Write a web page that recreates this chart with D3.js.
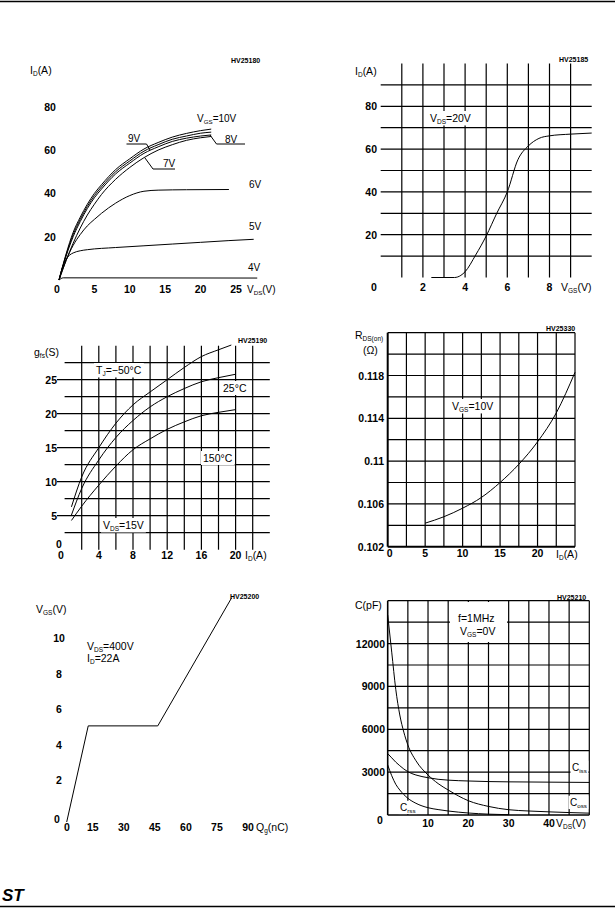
<!DOCTYPE html>
<html><head><meta charset="utf-8">
<script src="https://cdn.jsdelivr.net/npm/d3@7"></script>
<style>
html,body{margin:0;padding:0;background:#fff;}
svg{display:block;}
text{font-family:"Liberation Sans",Arial,Helvetica,sans-serif;fill:#000;}
</style></head><body>
<svg id="page" width="615" height="908"></svg>
<script>
// ---------- DATA ----------
// Chart 1: Output characteristics (ID vs VDS)
const outTicksX = [5, 10, 15, 20, 25];
const outTicksY = [20, 40, 60, 80];
const out10V = [[0,0],[1,12],[2,22],[3,29],[4,35],[5,40],[6,44],[8,51],[10,56],[12,60.5],[14,63.5],[16,66],[18,67.7],[20,69],[21.5,69.7]];
const out9V  = [[0,0],[1,11.5],[2,21],[3,28],[4,34],[5,39],[6,43],[8,50],[10,55],[12,59.5],[14,62.5],[16,65],[18,66.5],[20,67.8],[21.5,68.3]];
const out8V  = [[0,0],[1,11],[2,20],[3,27],[4,33],[5,38],[6,42],[8,49],[10,54],[12,58.5],[14,61.5],[16,64],[18,65.5],[20,66.5],[21.5,67]];
const out7V  = [[0,0],[1,9],[2,17],[3,24],[4,30],[5,35],[6,39.5],[8,46.5],[10,52],[12,56.5],[14,60],[16,62.5],[18,64.5],[20,65.7],[21.5,66.3]];
const out6V  = [[0,0],[1,9],[2,16],[3,21],[4,25],[5,28],[6,30.8],[8,35.5],[10,39],[12,41],[14,41.5],[18,41.7],[24,41.8]];
const out5V  = [[0,0],[0.5,6],[1,9.5],[1.5,11.5],[2,12.5],[3,13.5],[4,14],[8,15],[12,15.8],[16,16.6],[20,17.4],[24,18.2],[27.5,18.8]];
const out4V  = [[0,0],[0.6,1],[28,0.9]];

// Chart 2: Transfer characteristics
const trTicksX = [2, 4, 6, 8];
const trTicksY = [20, 40, 60, 80];
const trVgs = [2.4, 3.5, 3.8, 4.0, 4.5, 5.0, 5.5, 6.0, 6.5, 7.0, 7.5, 8.0, 9.0, 10.0];
const trId  = [0, 0, 1, 2.7, 10.5, 19.4, 30, 40, 55, 61.5, 65, 66.2, 67, 67.5];

// Chart 3: Transconductance
const gfsTicksX = [4, 8, 12, 16, 20];
const gfsTicksY = [5, 10, 15, 20, 25];
const gfsIdM50 = [0.8, 2, 4, 6, 8, 10, 12, 14, 16, 18, 19.5];
const gfsM50   = [6.3, 10.7, 15, 18.6, 21.3, 23.2, 25, 26.8, 28.4, 29.4, 30.1];
const gfsId    = [0.8, 2, 4, 6, 8, 10, 12, 14, 16, 18, 20];
const gfs25    = [5.1, 9, 13.2, 16.5, 19, 21, 22.5, 23.7, 24.7, 25.3, 25.8];
const gfs150   = [4.3, 6.4, 9.5, 12.3, 14.7, 16.3, 17.7, 18.8, 19.7, 20.2, 20.6];

// Chart 4: Static drain-source on resistance
const rdsTicksX = [0, 5, 10, 15, 20];
const rdsTicksY = [0.102, 0.106, 0.11, 0.114, 0.118];
const rdsTickLabels = ["0.102", "0.106", "0.11", "0.114", "0.118"];
const rdsId  = [5, 7.5, 10, 12.5, 15, 17.5, 20, 22.5, 25];
const rdsVal = [0.1042, 0.1048, 0.1056, 0.1066, 0.1080, 0.1097, 0.1118, 0.1145, 0.1183];

// Chart 5: Gate charge
const gcTicksX = [15, 30, 45, 60, 75, 90];
const gcTicksY = [2, 4, 6, 8, 10];
const gcQ = [0, 10.4, 44, 79.7];
const gcV = [0, 5.4, 5.4, 12.6];

// Chart 6: Capacitance variations
const capTicksX = [10, 20, 30, 40];
const capTicksY = [3000, 6000, 9000, 12000];
const capV  = [0, 1, 2, 3, 4, 5, 7, 10, 12.5, 15, 20, 25, 30, 35, 40, 45, 50];
const ciss  = [4300, 4000, 3700, 3450, 3220, 3030, 2800, 2610, 2500, 2440, 2380, 2340, 2320, 2310, 2300, 2290, 2280];
const coss  = [14000, 11400, 8800, 7000, 5800, 4900, 3800, 2800, 2200, 1750, 1000, 600, 370, 280, 220, 170, 130];
const crssV = [0, 1, 2, 3, 4, 5, 7, 10, 12.5, 15, 20, 25, 30];
const crss  = [3500, 2750, 2150, 1750, 1430, 1170, 820, 510, 380, 280, 140, 60, 20];

// ---------- HELPERS ----------
const svg = d3.select("#page");

function addText(g, x, y, str, o = {}) {
  const size = o.size || 10;
  const t = g.append("text").attr("x", x).attr("y", y)
    .attr("text-anchor", o.anchor || "start")
    .attr("dominant-baseline", "central")
    .attr("font-size", size)
    .attr("font-weight", o.weight || "normal");
  const parts = str.split(/(_\{[^}]*\})/).filter(s => s.length);
  let inSub = false;
  const shift = size * 0.28;
  parts.forEach(p => {
    if (p.startsWith("_{")) {
      t.append("tspan").text(p.slice(2, -1)).attr("font-size", size * 0.62).attr("dy", shift);
      inSub = true;
    } else {
      const ts = t.append("tspan").text(p);
      if (inSub) { ts.attr("dy", -shift); inSub = false; }
    }
  });
  if (o.bg) {
    const b = t.node().getBBox();
    const pad = o.pad || 2;
    g.insert("rect", () => t.node())
      .attr("x", b.x - pad).attr("y", b.y - pad * 0.5)
      .attr("width", b.width + 2 * pad).attr("height", b.height + pad)
      .attr("fill", "#fff");
  }
  return t;
}
function hline(g, x1, x2, y, w = 1.2) {
  g.append("line").attr("x1", x1).attr("x2", x2).attr("y1", y).attr("y2", y)
    .attr("stroke", "#000").attr("stroke-width", w);
}
function vline(g, x, y1, y2, w = 1.2) {
  g.append("line").attr("x1", x).attr("x2", x).attr("y1", y1).attr("y2", y2)
    .attr("stroke", "#000").attr("stroke-width", w);
}
function curve(g, pts, xs, ys, type = d3.curveMonotoneX, w = 1) {
  g.append("path").datum(pts)
    .attr("d", d3.line().x(d => xs(d[0])).y(d => ys(d[1])).curve(type))
    .attr("fill", "none").attr("stroke", "#000").attr("stroke-width", w);
}
const zip = (a, b) => a.map((v, i) => [v, b[i]]);
const HV = { size: 7, weight: "bold" };

// ---------- PAGE FRAME ----------
hline(svg, 0, 615, 1.5, 1.5);
hline(svg, 0, 615, 906.5, 1.5);
svg.append("text").attr("x", 2).attr("y", 901).attr("font-size", 17)
  .attr("font-weight", "bold").attr("font-style", "italic").text("ST");

// ---------- CHART 1 ----------
{
  const g = svg.append("g");
  const x = d3.scaleLinear([0, 25], [59, 236]);
  const y = d3.scaleLinear([0, 80], [280, 106.8]);
  addText(g, 30, 70, "I_{D}(A)", { size: 10.5 });
  addText(g, 231, 60, "HV25180", HV);
  outTicksY.forEach(v => addText(g, 50, y(v), String(v), { anchor: "middle", weight: "bold", size: 10.5 }));
  addText(g, 57, 289, "0", { anchor: "middle", weight: "bold", size: 10.5 });
  outTicksX.forEach(v => addText(g, x(v), 289, String(v), { anchor: "middle", weight: "bold", size: 10.5 }));
  addText(g, 247, 289, "V_{DS}(V)", { size: 10 });
  [out10V, out9V, out8V, out7V, out6V, out5V, out4V].forEach(c => curve(g, c, x, y));
  addText(g, 197, 118, "V_{GS}=10V");
  addText(g, 128, 138, "9V");
  addText(g, 225, 139, "8V");
  addText(g, 163, 163, "7V");
  addText(g, 249, 184, "6V");
  addText(g, 249, 226, "5V");
  addText(g, 248, 267, "4V");
  // leaders
  const lead = [
    [[126.5, 144], [146.5, 144], [150, 150]],
    [[210, 135], [216.5, 144], [245, 144]],
    [[145, 158], [153, 169], [175, 169]]
  ];
  lead.forEach(p => g.append("path").attr("d", d3.line()(p)).attr("fill", "none").attr("stroke", "#000").attr("stroke-width", 1));
}

// ---------- CHART 2 ----------
{
  const g = svg.append("g");
  const x = d3.scaleLinear([0, 10], [380.7, 591.7]);
  const y = d3.scaleLinear([0, 100], [277.5, 63.5]);
  d3.range(1, 10).forEach(v => vline(g, x(v), y(100), y(0)));
  d3.range(10, 100, 10).forEach(v => hline(g, x(0), x(10), y(v)));
  addText(g, 355, 71, "I_{D}(A)", { size: 10.5 });
  addText(g, 559, 59, "HV25185", HV);
  trTicksY.forEach(v => addText(g, 377, y(v), String(v), { anchor: "end", weight: "bold", size: 10.5 }));
  addText(g, 374, 287, "0", { anchor: "middle", weight: "bold", size: 10.5 });
  trTicksX.forEach(v => addText(g, x(v), 287, String(v), { anchor: "middle", weight: "bold", size: 10.5 }));
  addText(g, 561, 287, "V_{GS}(V)", { size: 10.5 });
  addText(g, 430, 118, "V_{DS}=20V", { bg: true, size: 10.5 });
  curve(g, zip(trVgs, trId), x, y);
}

// ---------- CHART 3 ----------
{
  const g = svg.append("g");
  const x = d3.scaleLinear([0, 24], [64.6, 269.8]);
  const y = d3.scaleLinear([0, 30], [549.7, 345.7]);
  d3.range(2, 23, 2).forEach(v => vline(g, x(v), y(30), y(0)));
  d3.range(1, 12).map(i => i * 2.5).forEach(v => {
    const labeled = gfsTicksY.includes(v);
    hline(g, labeled ? 57 : x(0), x(24), y(v));
  });
  addText(g, 34, 352, "g_{fs}(S)", { size: 10.5 });
  addText(g, 238, 340, "HV25190", HV);
  gfsTicksY.forEach(v => addText(g, 57, y(v), String(v), { anchor: "end", weight: "bold", size: 10.5 }));
  addText(g, 59, 544, "0", { anchor: "middle", weight: "bold", size: 10.5 });
  addText(g, 61, 555, "0", { anchor: "middle", weight: "bold", size: 10.5 });
  gfsTicksX.forEach(v => addText(g, x(v), 555, String(v), { anchor: "middle", weight: "bold", size: 10.5 }));
  addText(g, 245, 555, "I_{D}(A)", { size: 10.5 });
  addText(g, 96, 370, "T_{J}=−50°C", { bg: true, size: 10.5 });
  addText(g, 223, 388, "25°C", { bg: true, size: 10.5 });
  addText(g, 203, 458, "150°C", { bg: true, size: 10.5 });
  addText(g, 103, 525, "V_{DS}=15V", { bg: true, size: 10.5 });
  curve(g, zip(gfsIdM50, gfsM50), x, y);
  curve(g, zip(gfsId, gfs25), x, y);
  curve(g, zip(gfsId, gfs150), x, y);
}

// ---------- CHART 4 ----------
{
  const g = svg.append("g");
  const x = d3.scaleLinear([0, 25], [387.7, 575]);
  const y = d3.scaleLinear([0.102, 0.122], [546.7, 332.7]);
  d3.range(0, 11).map(i => i * 2.5).forEach(v => vline(g, x(v), y(0.122), y(0.102), v === 0 ? 2 : 1.2));
  d3.range(0, 11).map(i => 0.102 + i * 0.002).forEach((v, i) => hline(g, x(0), x(25), y(v), i === 0 ? 2 : 1.2));
  addText(g, 355, 335, "R_{DS(on)}", { size: 10.5 });
  addText(g, 363, 350, "(Ω)", { size: 10.5 });
  addText(g, 546, 328, "HV25330", HV);
  rdsTicksY.forEach((v, i) => addText(g, 384, y(v), rdsTickLabels[i], { anchor: "end", weight: "bold", size: 10.5 }));
  rdsTicksX.forEach(v => addText(g, x(v) + (v === 0 ? 2 : 0), 553, String(v), { anchor: "middle", weight: "bold", size: 10.5 }));
  addText(g, 556, 554, "I_{D}(A)", { size: 10.5 });
  addText(g, 452, 406, "V_{GS}=10V", { bg: true, size: 10.5 });
  curve(g, zip(rdsId, rdsVal), x, y);
}

// ---------- CHART 5 ----------
{
  const g = svg.append("g");
  const x = d3.scaleLinear([0, 90], [66.7, 253]);
  const y = d3.scaleLinear([0, 12], [822, 608.4]);
  addText(g, 36, 609, "V_{GS}(V)", { size: 10.5 });
  addText(g, 230, 596, "HV25200", HV);
  gcTicksY.forEach(v => addText(g, 59, y(v) - 6, String(v), { anchor: "middle", weight: "bold", size: 10.5 }));
  addText(g, 57, 819, "0", { anchor: "middle", weight: "bold", size: 10.5 });
  addText(g, 67, 827, "0", { anchor: "middle", weight: "bold", size: 10.5 });
  gcTicksX.forEach(v => addText(g, x(v) - 5, 827, String(v), { anchor: "middle", weight: "bold", size: 10.5 }));
  addText(g, 256, 827, "Q_{g}(nC)", { size: 10.5 });
  addText(g, 87, 646, "V_{DS}=400V", { size: 10.5 });
  addText(g, 87, 658, "I_{D}=22A", { size: 10.5 });
  curve(g, zip(gcQ, gcV), x, y, d3.curveLinear);
}

// ---------- CHART 6 ----------
{
  const g = svg.append("g");
  const x = d3.scaleLinear([0, 50], [387.7, 589.3]);
  const y = d3.scaleLinear([0, 15000], [815, 600.7]);
  d3.range(0, 55, 5).forEach(v => vline(g, x(v), y(15000), y(0), v === 0 ? 1.6 : 1.2));
  d3.range(0, 16500, 1500).forEach(v => hline(g, x(0), x(50), y(v), v === 0 ? 1.6 : 1.2));
  g.append("rect").attr("x", 450).attr("y", 602).attr("width", 57).attr("height", 40).attr("fill", "#fff");
  addText(g, 355, 605, "C(pF)", { size: 10.5 });
  addText(g, 557, 597, "HV25210", HV);
  capTicksY.forEach(v => addText(g, 385, y(v), String(v), { anchor: "end", weight: "bold", size: 10.5 }));
  addText(g, 380, 820, "0", { anchor: "middle", weight: "bold", size: 10.5 });
  capTicksX.forEach(v => addText(g, x(v), 823, String(v), { anchor: "middle", weight: "bold", size: 10.5 }));
  addText(g, 556, 823, "V_{DS}(V)", { size: 10.5 });
  addText(g, 458, 618, "f=1MHz", { size: 10.5 });
  addText(g, 460, 631, "V_{GS}=0V", { size: 10.5 });
  addText(g, 572, 767, "C_{iss}", { bg: true, pad: 1.5 });
  addText(g, 570, 802, "C_{oss}", { bg: true, pad: 1.5 });
  addText(g, 400, 807, "C_{rss}", { bg: true, pad: 1.5 });
  curve(g, zip(capV, ciss), x, y);
  curve(g, zip(capV, coss), x, y);
  curve(g, zip(crssV, crss), x, y);
}
</script>
</body></html>
